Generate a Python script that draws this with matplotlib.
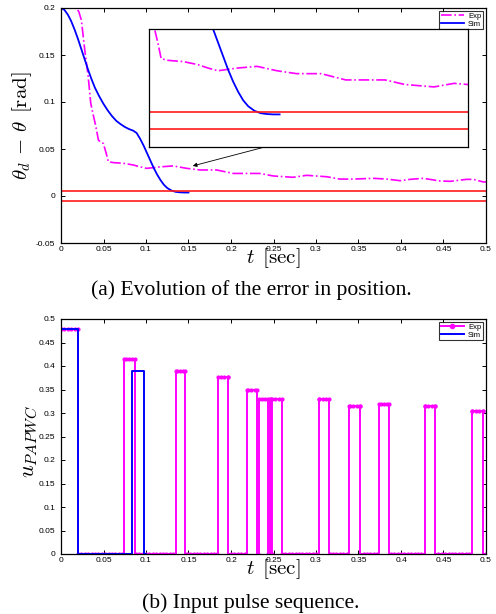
import numpy as np
import matplotlib
matplotlib.use("Agg")
import matplotlib.pyplot as plt

plt.rcParams['font.family'] = ['Liberation Sans', 'DejaVu Sans']
plt.rcParams['mathtext.fontset'] = 'cm'

# ---- (a) error in position ----
sim_t = [0.0, 0.004, 0.008, 0.012, 0.016, 0.020, 0.024, 0.028, 0.032, 0.036, 0.040, 0.045,
         0.050, 0.055, 0.060, 0.065, 0.070, 0.075, 0.080, 0.085, 0.089, 0.093, 0.097, 0.101,
         0.105, 0.109, 0.113, 0.117, 0.121, 0.125, 0.130, 0.135, 0.140, 0.145, 0.150]
sim_err = [0.2, 0.198, 0.193, 0.186, 0.177, 0.167, 0.156, 0.145, 0.134, 0.124, 0.115, 0.106,
           0.098, 0.091, 0.085, 0.080, 0.0765, 0.0735, 0.0712, 0.0695, 0.067, 0.061, 0.054, 0.046,
           0.038, 0.030, 0.023, 0.017, 0.012, 0.0085, 0.0058, 0.0044, 0.0039, 0.0037, 0.0037]

exp_t = [0.0, 0.018, 0.021, 0.024, 0.028, 0.032, 0.035, 0.038, 0.041, 0.044, 0.047, 0.0498,
         0.053, 0.0557, 0.0616, 0.0733, 0.085, 0.093, 0.1008, 0.1165, 0.132, 0.148, 0.1635,
         0.183, 0.2027, 0.2106, 0.234, 0.2498, 0.273, 0.289, 0.3125, 0.328, 0.344, 0.3675,
         0.383, 0.399, 0.4106, 0.426, 0.446, 0.458, 0.477, 0.485, 0.497, 0.5]
exp_err = [0.2, 0.2, 0.196, 0.187, 0.155, 0.127, 0.0986, 0.086, 0.074, 0.0596, 0.057, 0.056,
           0.046, 0.0365, 0.0355, 0.0348, 0.033, 0.031, 0.0294, 0.031, 0.032, 0.0294, 0.0277,
           0.0277, 0.024, 0.024, 0.024, 0.0213, 0.0199, 0.022, 0.0205, 0.018, 0.018, 0.0188,
           0.018, 0.0163, 0.0177, 0.0188, 0.016, 0.0156, 0.0177, 0.0177, 0.0149, 0.015]

band = [0.005, -0.005]

# ---- (b) input pulses ----
exp_start = [0.0, 0.0745, 0.135, 0.185, 0.2185, 0.2333, 0.2455, 0.2485, 0.3035, 0.339, 0.3737, 0.428, 0.484]
exp_end = [0.0196, 0.087, 0.146, 0.196, 0.230, 0.2431, 0.2475, 0.2596, 0.3157, 0.352, 0.386, 0.440, 0.496]
exp_amp = [0.478, 0.414, 0.389, 0.377, 0.35, 0.33, 0.33, 0.33, 0.33, 0.314, 0.32, 0.314, 0.304]

sim_start = [0.0, 0.083]
sim_end = [0.0196, 0.098]
sim_amp = [0.478, 0.389]

t_ticks = [0, 0.05, 0.1, 0.15, 0.2, 0.25, 0.3, 0.35, 0.4, 0.45, 0.5]
t_labels = ['0', '0.05', '0.1', '0.15', '0.2', '0.25', '0.3', '0.35', '0.4', '0.45', '0.5']
ya_ticks = [-0.05, 0, 0.05, 0.1, 0.15, 0.2]
ya_labels = ['-0.05', '0', '0.05', '0.1', '0.15', '0.2']
yb_ticks = [0, 0.05, 0.1, 0.15, 0.2, 0.25, 0.3, 0.35, 0.4, 0.45, 0.5]
yb_labels = ['0', '0.05', '0.1', '0.15', '0.2', '0.25', '0.3', '0.35', '0.4', '0.45', '0.5']


def pulse_path(starts, ends, amps, t_stop):
    t, y = [0.0], [0.0]
    for s, e, a in zip(starts, ends, amps):
        t += [s, s, e, e]
        y += [0, a, a, 0]
    t.append(t_stop)
    y.append(0)
    return np.array(t), np.array(y)


def sampled(starts, ends, amps, dt, t_stop):
    # marker positions: sample grid plus the pulse edges
    ts = list(np.arange(0, t_stop + 1e-9, dt))
    for s, e in zip(starts, ends):
        ts += [s, e]
    ts = np.array(sorted(ts))
    ys = np.zeros_like(ts)
    for s, e, a in zip(starts, ends, amps):
        ys[(ts >= s - 1e-9) & (ts <= e + 1e-9)] = a
    return ts, ys


def style_axes(ax):
    for sp in ax.spines.values():
        sp.set_linewidth(0.9)
    ax.tick_params(direction='in', length=3, width=0.7, top=True, right=True,
                   labelsize=6, colors='k')
    ax.tick_params(axis='x', pad=2)
    ax.tick_params(axis='y', pad=4)


fig = plt.figure(figsize=(4.96, 6.14), dpi=100)
W, H = 496, 614


def px_axes(x0, y0, x1, y1):
    return fig.add_axes([x0 / W, 1 - y1 / H, (x1 - x0) / W, (y1 - y0) / H])


# top panel
ax1 = px_axes(61, 8, 486, 243)
ax1.plot(exp_t, exp_err, color='#ff00ff', ls='-.', lw=1.2, label='Exp')
ax1.plot(sim_t, sim_err, color='#0000ff', ls='-', lw=1.3, label='Sim')
for b in band:
    ax1.axhline(b, color='#ff1a1a', lw=1.2)
ax1.set_xlim(0, 0.5)
ax1.set_ylim(-0.05, 0.2)
ax1.set_xticks(t_ticks)
ax1.set_xticklabels(t_labels)
ax1.set_yticks(ya_ticks)
ax1.set_yticklabels(ya_labels)
style_axes(ax1)
ax1.set_xlabel(r'$t\ \,[\mathrm{sec}]$', fontsize=15)
ax1.xaxis.set_label_coords(0.5, -0.015)
ax1.xaxis.label.set_va('top')
ax1.set_ylabel(r'$\theta_d\,-\,\theta\ \,[\mathrm{rad}]$', fontsize=15)
ax1.yaxis.set_label_coords(-0.064, 0.5)
leg1 = ax1.legend(loc='upper right', fontsize=5.5, frameon=True, fancybox=False,
                  edgecolor='k', handlelength=3, borderpad=0.2, labelspacing=0.05,
                  handletextpad=0.6, borderaxespad=0.4)
leg1.get_frame().set_linewidth(0.8)

ax1.annotate('', xy=(0.155, 0.032), xytext=(0.2435, 0.053),
             arrowprops=dict(arrowstyle='-|>', lw=0.6, color='k', mutation_scale=6,
                             shrinkA=0, shrinkB=0))

# inset
axi = px_axes(149, 29, 468, 147)
axi.plot(exp_t, exp_err, color='#ff00ff', ls='-.', lw=1.2)
axi.plot(sim_t, sim_err, color='#0000ff', ls='-', lw=1.3)
for b in band:
    axi.axhline(b, color='#ff1a1a', lw=1.2)
axi.set_xlim(0.046, 0.3)
axi.set_ylim(-0.0155, 0.054)
axi.set_xticks([])
axi.set_yticks([])
for sp in axi.spines.values():
    sp.set_linewidth(0.9)

fig.text(251 / W, 1 - 290 / H, '(a) Evolution of the error in position.',
         family='Liberation Serif', fontsize=15.6, ha='center', va='center')

# bottom panel
ax2 = px_axes(61, 319, 486, 554)
et, ey = pulse_path(exp_start, exp_end, exp_amp, 0.5)
ax2.plot(et, ey, color='#ff00ff', lw=1.4)
mt, my = sampled(exp_start, exp_end, exp_amp, 0.004, 0.5)
ax2.plot(mt, my, ls='none', marker='o', ms=3, color='#ff00ff', mec='none')
ax2.plot([], [], color='#ff00ff', lw=1.4, marker='o', ms=3, label='Exp')
st, sy = pulse_path(sim_start, sim_end, sim_amp, 0.1)
ax2.plot(st, sy, color='#0000ff', lw=1.4, label='Sim')
ax2.set_xlim(0, 0.5)
ax2.set_ylim(0, 0.5)
ax2.set_xticks(t_ticks)
ax2.set_xticklabels(t_labels)
ax2.set_yticks(yb_ticks)
ax2.set_yticklabels(yb_labels)
style_axes(ax2)
ax2.set_xlabel(r'$t\ \,[\mathrm{sec}]$', fontsize=15)
ax2.xaxis.set_label_coords(0.5, -0.015)
ax2.xaxis.label.set_va('top')
ax2.set_ylabel(r'$u_{PAPWC}$', fontsize=16)
ax2.yaxis.set_label_coords(-0.05, 0.477)
leg2 = ax2.legend(loc='upper right', fontsize=5.5, frameon=True, fancybox=False,
                  edgecolor='k', handlelength=3, borderpad=0.2, labelspacing=0.05,
                  handletextpad=0.6, borderaxespad=0.4)
leg2.get_frame().set_linewidth(0.8)

fig.text(251 / W, 1 - 603 / H, '(b) Input pulse sequence.',
         family='Liberation Serif', fontsize=15.6, ha='center', va='center')

fig.savefig('out.png', dpi=100)
